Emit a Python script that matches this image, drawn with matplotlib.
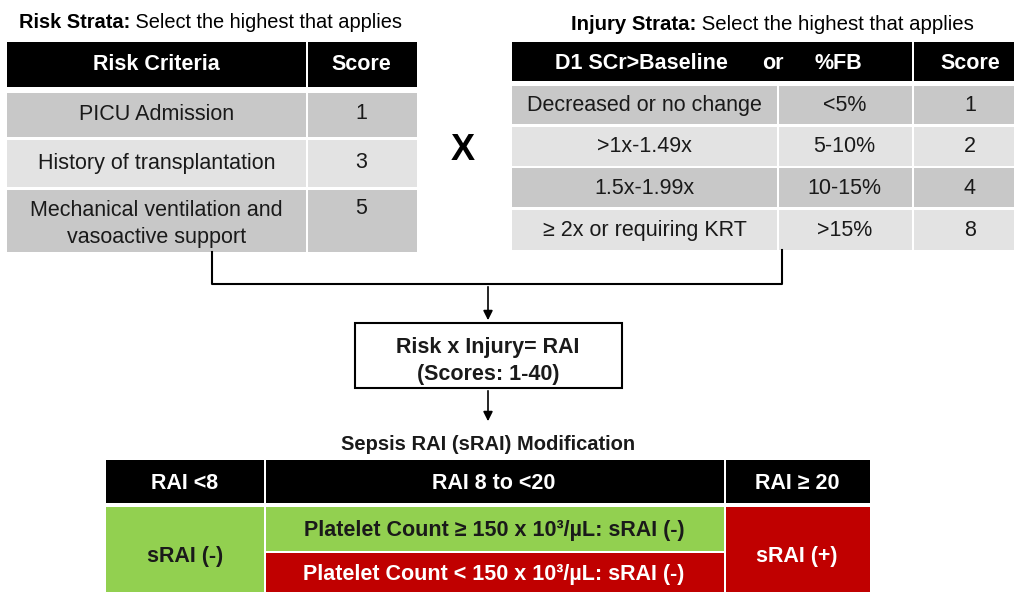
import matplotlib.pyplot as plt
from matplotlib.patches import Rectangle

plt.rcParams['font.family'] = ['Liberation Sans', 'DejaVu Sans']

risk_criteria = ['PICU Admission', 'History of transplantation',
                 'Mechanical ventilation and\nvasoactive support']
risk_scores = [1, 3, 5]

scr_levels = ['Decreased or no change', '>1x-1.49x', '1.5x-1.99x', '\u2265 2x or requiring KRT']
fb_levels = ['<5%', '5-10%', '10-15%', '>15%']
injury_scores = [1, 2, 4, 8]

rai_bands = ['RAI <8', 'RAI 8 to <20', 'RAI \u2265 20']
platelet_rules = ['Platelet Count \u2265 150 x 10\u00b3/\u00b5L: sRAI (-)',
                  'Platelet Count < 150 x 10\u00b3/\u00b5L: sRAI (-)']
srai_low = 'sRAI (-)'
srai_high = 'sRAI (+)'

DARK = '#c8c8c8'
LIGHT = '#e3e3e3'
GREEN = '#92d050'
RED = '#c00000'
INK = '#1a1a1a'

fig = plt.figure(figsize=(10.14, 5.92), dpi=100)
ax = fig.add_axes([0, 0, 1, 1])
ax.set_xlim(0, 1014)
ax.set_ylim(592, 0)
ax.axis('off')


def cell(x0, x1, y0, y1, color):
    ax.add_patch(Rectangle((x0, y0), x1 - x0, y1 - y0, facecolor=color, edgecolor='none'))


def label(x, y, s, size=15.5, color=INK, weight='normal', **kw):
    ax.text(x, y, s, fontsize=size, color=color, fontweight=weight,
            ha='center', va='center_baseline', **kw)


def title(x, y, bold, rest, size):
    t = ax.text(x, y, bold, fontsize=size, fontweight='bold', color='black', va='center')
    ax.annotate(' ' + rest, xy=(1, 0), xycoords=t, fontsize=size, color='black',
                ha='left', va='bottom')


# ---- Risk strata table
title(19, 22, 'Risk Strata:', 'Select the highest that applies', 14.4)
cols = [7, 306, 417]
cell(cols[0], cols[1], 42, 87, 'black')
cell(cols[1] + 2, cols[2], 42, 87, 'black')
label((cols[0] + cols[1]) / 2, 62, 'Risk Criteria', color='white', weight='bold')
label((cols[1] + cols[2]) / 2, 62, 'Score', color='white', weight='bold')
rows = [(93, 137), (140, 187), (190, 252)]
for i, (y0, y1) in enumerate(rows):
    c = DARK if i % 2 == 0 else LIGHT
    cell(cols[0], cols[1], y0, y1, c)
    cell(cols[1] + 2, cols[2], y0, y1, c)
    yc = (y0 + y1) / 2 - 4
    label((cols[0] + cols[1]) / 2, yc + 1, risk_criteria[i], linespacing=1.4)
    ys = yc if '\n' not in risk_criteria[i] else y0 + 16
    label((cols[1] + cols[2]) / 2, ys, str(risk_scores[i]))

# multiply sign
label(463, 146, 'X', size=26, color='black', weight='bold')

# ---- Injury strata table
title(571, 24, 'Injury Strata:', 'Select the highest that applies', 14.7)
icol = [512, 777, 912, 1028]
cell(icol[0], icol[2], 42, 81, 'black')
cell(icol[2] + 2, icol[3], 42, 81, 'black')
label(641, 61, 'D1 SCr>Baseline', color='white', weight='bold')
label(773, 61, 'or', color='white', weight='bold')
label(838, 61, '%FB', color='white', weight='bold')
label(970, 61, 'Score', color='white', weight='bold')
irows = [(86, 124), (127, 166), (168, 207), (210, 250)]
for i, (y0, y1) in enumerate(irows):
    c = DARK if i % 2 == 0 else LIGHT
    cell(icol[0], icol[1], y0, y1, c)
    cell(icol[1] + 2, icol[2], y0, y1, c)
    cell(icol[2] + 2, icol[3], y0, y1, c)
    yc = (y0 + y1) / 2 - 2
    label((icol[0] + icol[1]) / 2, yc, scr_levels[i])
    label((icol[1] + icol[2]) / 2, yc, fb_levels[i])
    label(970, yc, str(injury_scores[i]))

# ---- connectors
ax.plot([212, 212, 782, 782], [252, 284, 284, 250], color='black', lw=1.5)
ax.annotate('', xy=(488, 323), xytext=(488, 284),
            arrowprops=dict(arrowstyle='-|>', color='black', lw=1.2, mutation_scale=14))
ax.add_patch(Rectangle((355, 323), 267, 65, facecolor='white', edgecolor='black', lw=1.5))
label(488, 345, 'Risk x Injury= RAI', weight='bold')
label(488, 372, '(Scores: 1-40)', weight='bold')
ax.annotate('', xy=(488, 424), xytext=(488, 388),
            arrowprops=dict(arrowstyle='-|>', color='black', lw=1.2, mutation_scale=14))

# ---- sRAI table
label(488, 443, 'Sepsis RAI (sRAI) Modification', size=14.5, weight='bold')
bcol = [106, 264, 724, 870]
for j in range(3):
    x0 = bcol[j] + (2 if j else 0)
    cell(x0, bcol[j + 1], 460, 503, 'black')
    label((bcol[j] + bcol[j + 1]) / 2, 481, rai_bands[j], color='white', weight='bold')
cell(bcol[0], bcol[1], 507, 592, GREEN)
cell(bcol[1] + 2, bcol[2], 507, 551, GREEN)
cell(bcol[1] + 2, bcol[2], 553, 592, RED)
cell(bcol[2] + 2, bcol[3], 507, 592, RED)
label((bcol[0] + bcol[1]) / 2, 554, srai_low, weight='bold')
label((bcol[1] + bcol[2]) / 2, 528, platelet_rules[0], weight='bold')
label((bcol[1] + bcol[2]) / 2, 572, platelet_rules[1], color='white', weight='bold')
label((bcol[2] + bcol[3]) / 2, 554, srai_high, color='white', weight='bold')

fig.savefig('out.png', dpi=100)
